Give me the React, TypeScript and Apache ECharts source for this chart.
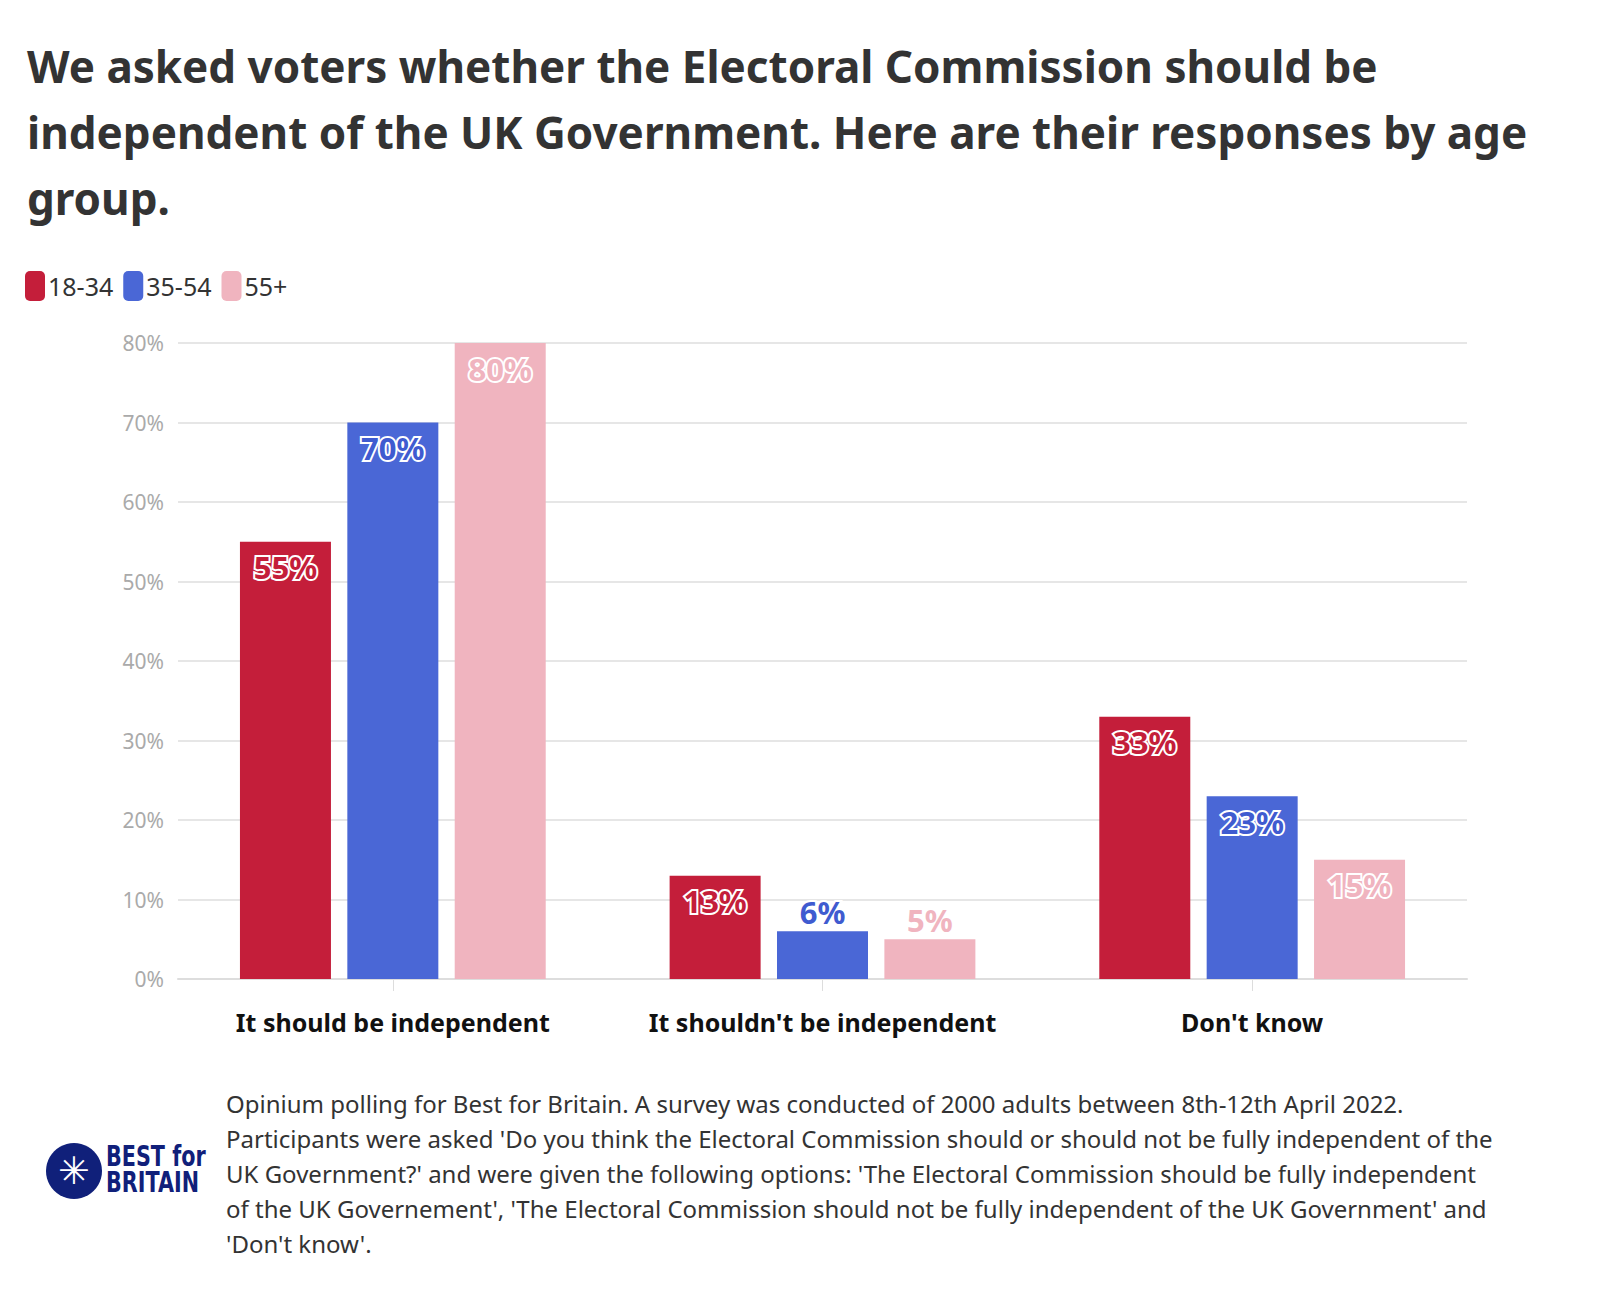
import React, { useEffect, useRef } from 'react';
import * as echarts from 'echarts';

const categories = ['It should be independent', "It shouldn't be independent", "Don't know"];
const groups = ['18-34', '35-54', '55+'];
const values = [
  [55, 13, 33],
  [70, 6, 23],
  [80, 5, 15],
];
const colors = ['#c41e3a', '#4a67d6', '#f0b4bf'];
const textColors = ['#c41e3a', '#3f5bd0', '#f0b4bf'];
const yTicks = [0, 10, 20, 30, 40, 50, 60, 70, 80];

const FONT = '"Noto Sans", Lato, sans-serif';
const footnote = [
  'Opinium polling for Best for Britain. A survey was conducted of 2000 adults between 8th-12th April 2022.',
  "Participants were asked 'Do you think the Electoral Commission should or should not be fully independent of the",
  "UK Government?' and were given the following options: 'The Electoral Commission should be fully independent",
  "of the UK Governement', 'The Electoral Commission should not be fully independent of the UK Government' and",
  "'Don't know'.",
];

const App: React.FC = () => {
  const chartRef = useRef<HTMLDivElement>(null);

  useEffect(() => {
    if (!chartRef.current) return;
    const chart = echarts.init(chartRef.current, undefined, { renderer: 'svg' });

    const option: any = {
      animation: false,
      textStyle: { fontFamily: FONT },
      title: {
        text: 'We asked voters whether the Electoral Commission should be\nindependent of the UK Government. Here are their responses by age\ngroup.',
        left: 14,
        top: 20,
        textStyle: { fontSize: 44, fontWeight: 'bold', color: '#333', lineHeight: 66, fontFamily: FONT },
      },
      legend: {
        left: 12,
        top: 258,
        itemWidth: 20,
        itemHeight: 30,
        itemGap: 10,
        icon: 'roundRect',
        textStyle: { fontSize: 25, color: '#333', padding: [0, 0, 0, -2] },
        data: groups,
      },
      grid: { left: 170, right: 125, top: 335, bottom: 313 },
      xAxis: {
        type: 'category',
        data: categories,
        axisLine: { lineStyle: { color: '#ddd', width: 2 } },
        axisTick: { show: true, alignWithLabel: true, length: 12, lineStyle: { color: '#ddd' } },
        axisLabel: { interval: 0, fontSize: 25, fontWeight: 'bold', color: '#111', margin: 30 },
      },
      yAxis: {
        type: 'value',
        min: 0,
        max: 80,
        interval: 10,
        axisLabel: { formatter: (v: number) => (yTicks.includes(v) ? v + '%' : ''), fontSize: 21, color: '#aaa', margin: 14 },
        splitLine: { lineStyle: { color: '#e6e6e6', width: 2 } },
      },
      series: groups.map((g, i) => ({
        name: g,
        type: 'bar',
        barWidth: 91,
        barGap: '18%',
        itemStyle: { color: colors[i] },
        data: values[i].map((v) => ({
          value: v,
          label: {
            show: true,
            position: v < 10 ? 'top' : 'insideTop',
            distance: v < 10 ? 4 : 10,
            formatter: '{c}%',
            fontSize: 31,
            fontWeight: 'bold',
            color: textColors[i],
            textBorderColor: '#fff',
            textBorderWidth: 4,
          },
        })),
      })),
      graphic: [
        { type: 'circle', shape: { cx: 66, cy: 1163, r: 28 }, style: { fill: '#10207a' } },
        {
          type: 'text',
          x: 66,
          y: 1163,
          style: { text: '✳', fill: '#fff', fontSize: 38, align: 'center', verticalAlign: 'middle' },
        },
        {
          type: 'text',
          x: 98,
          y: 1135,
          scaleX: 0.74,
          style: { text: 'BEST for\nBRITAIN', fill: '#10207a', fontSize: 28, fontWeight: 900, lineHeight: 26, fontFamily: '"DejaVu Sans", sans-serif' },
        },
        {
          type: 'text',
          x: 218,
          y: 1078,
          style: { text: footnote.join('\n'), fill: '#333', fontSize: 24, lineHeight: 35, fontFamily: FONT },
        },
      ],
    };

    chart.setOption(option);
    return () => chart.dispose();
  }, []);

  return <div ref={chartRef} style={{ width: 1584, height: 1284 }} />;
};

export default App;
